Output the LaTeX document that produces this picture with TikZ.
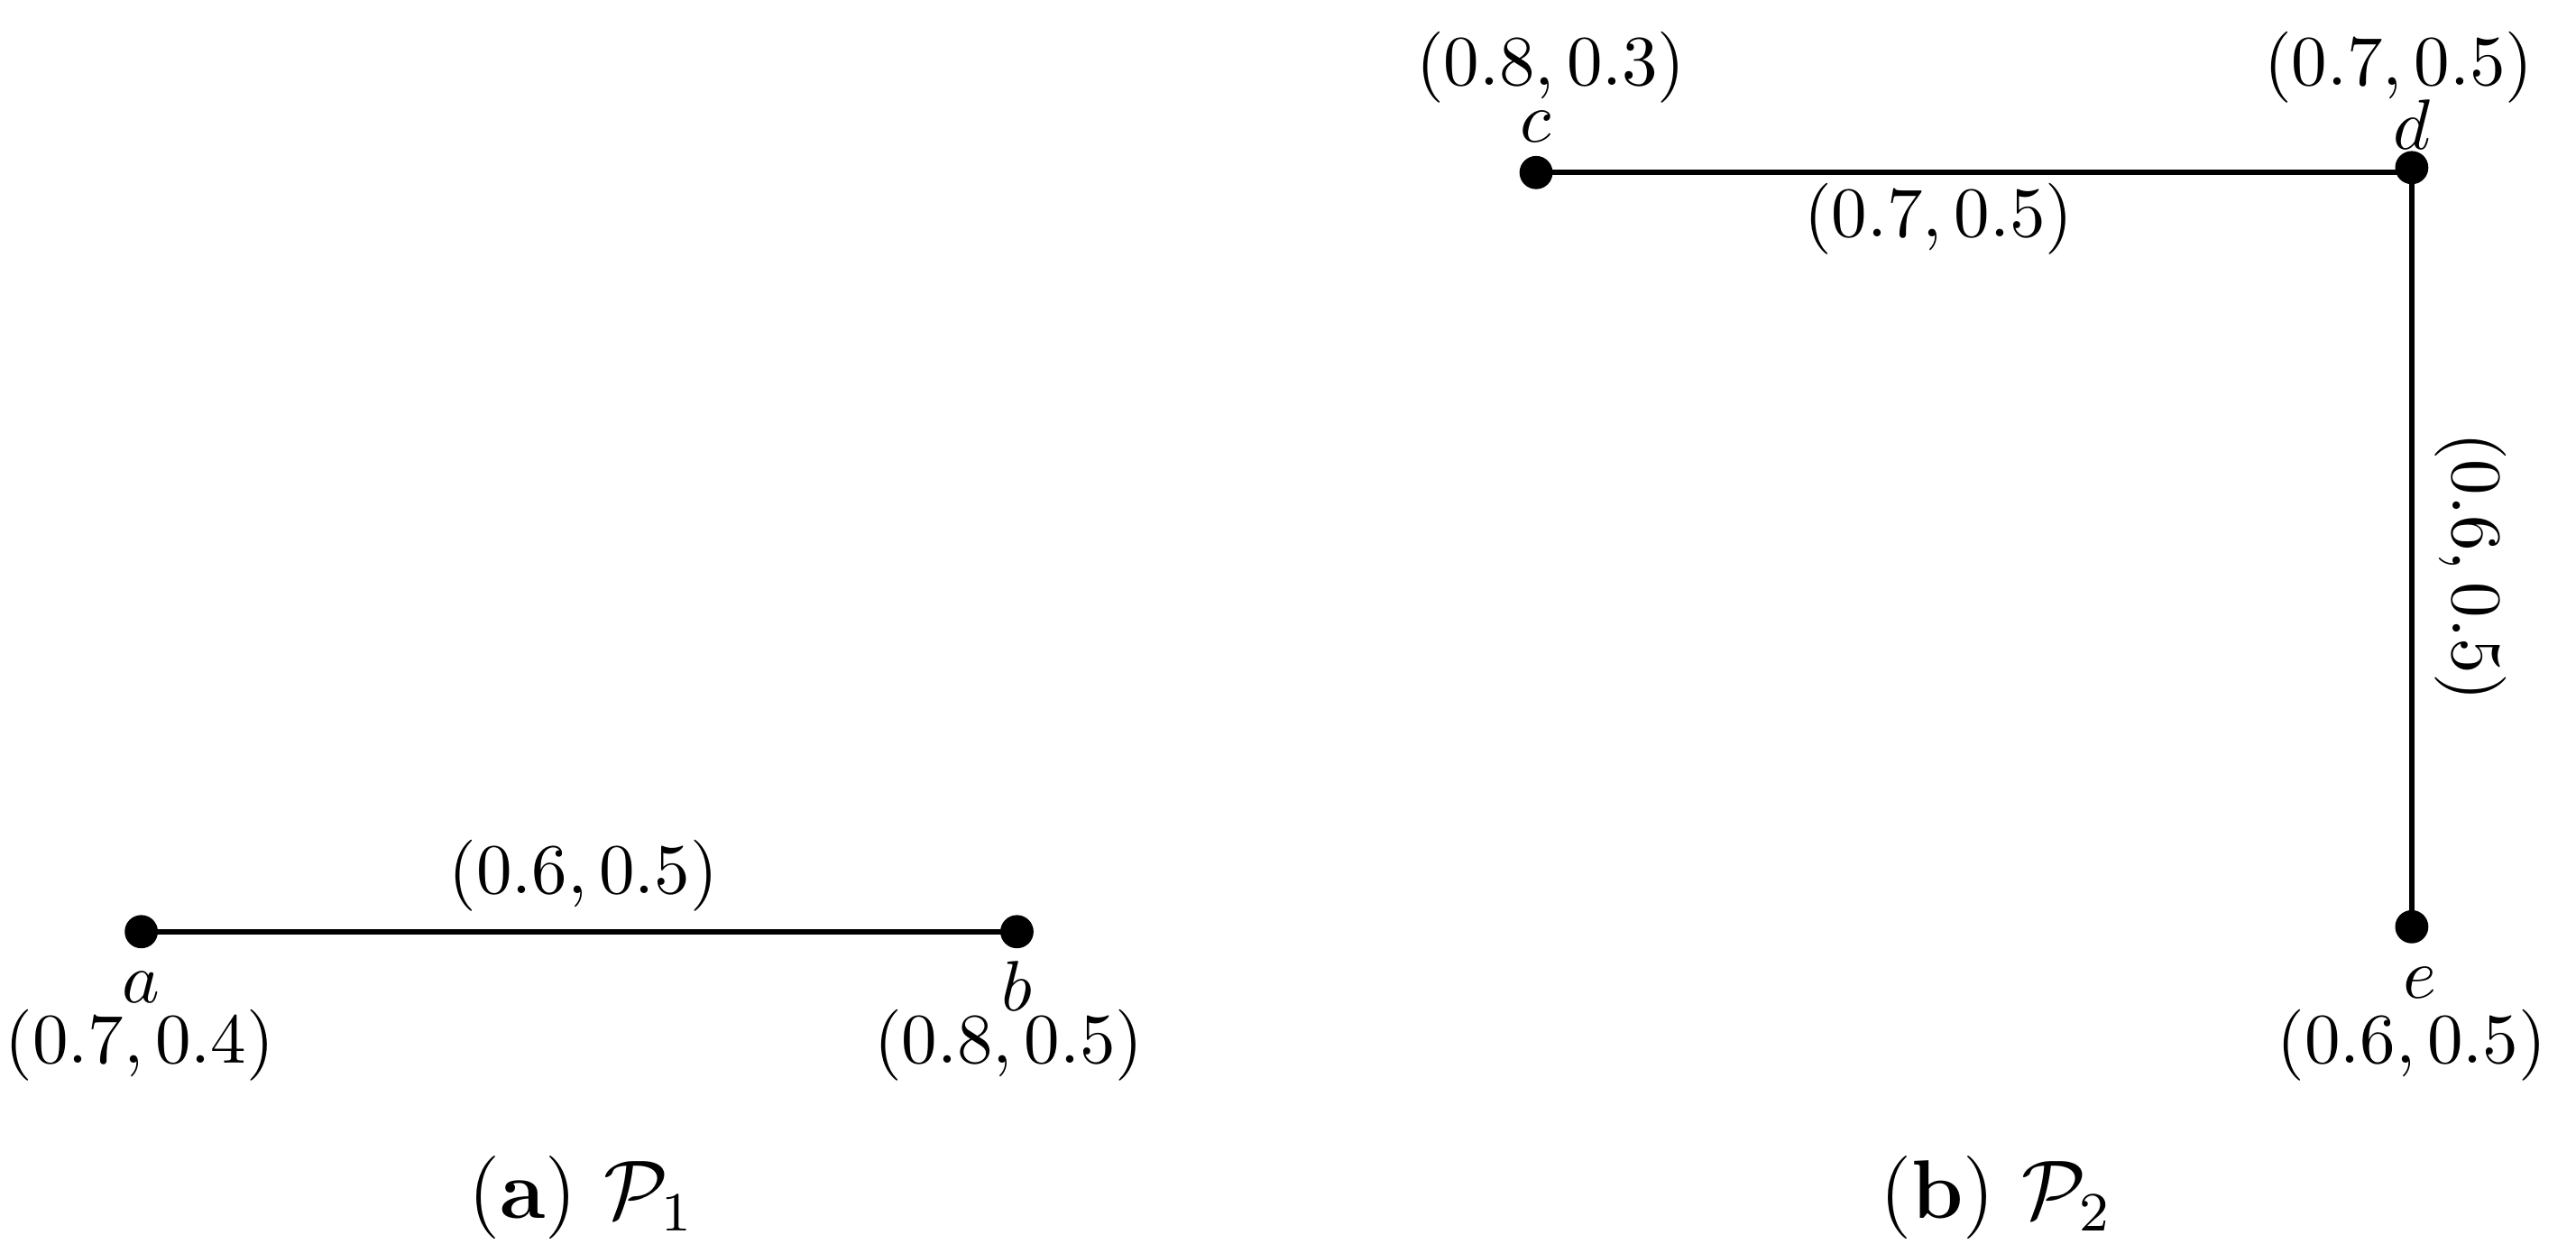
\documentclass[tikz,border=0pt]{standalone}
\begin{document}
\begin{tikzpicture}[x=0.2375pt, y=-0.2375pt]
\tikzset{
  vertex/.style={circle, fill=black, inner sep=0pt, minimum size=4.8pt},
  edge/.style={line width=0.8pt},
  lbl/.style={inner sep=0pt, anchor=center, scale=1.03},
  captext/.style={inner sep=0pt, anchor=center, font=\large}
}
\useasboundingbox (0,0) rectangle (1568,757);
% panel (a)
\node[vertex] (a) at (86,567) {};
\node[vertex] (b) at (619,567) {};
\draw[edge] (a.center) -- (b.center);
\node[lbl] (lab) at (355,533) {$(0.6, 0.5)$};
\node[lbl] (na) at (86,601) {$a$};
\node[lbl] (wa) at (85,636) {$(0.7, 0.4)$};
\node[lbl] (nb) at (619,600) {$b$};
\node[lbl] (wb) at (614,636) {$(0.8, 0.5)$};
\node[captext] (capa) at (354,729) {({\bfseries a}) $\mathcal{P}_1$};
% panel (b)
\node[vertex] (c) at (935,105) {};
\node[vertex] (d) at (1468,102) {};
\node[vertex] (e) at (1468,564) {};
\draw[edge] (c.center) -- (c.center -| d.center);
\draw[edge] (d.center) -- (e.center);
\node[lbl] (lcd) at (1180,133) {$(0.7, 0.5)$};
\node[lbl, rotate=-90] (lde) at (1504,345) {$(0.6, 0.5)$};
\node[lbl] (nc) at (935,77) {$c$};
\node[lbl] (wc) at (944,41) {$(0.8, 0.3)$};
\node[lbl] (nd) at (1468,76) {$d$};
\node[lbl] (wd) at (1460,41) {$(0.7, 0.5)$};
\node[lbl] (ne) at (1473,598) {$e$};
\node[lbl] (we) at (1468,636) {$(0.6, 0.5)$};
\node[captext] (capb) at (1215,729) {({\bfseries b}) $\mathcal{P}_2$};
\end{tikzpicture}
\end{document}
